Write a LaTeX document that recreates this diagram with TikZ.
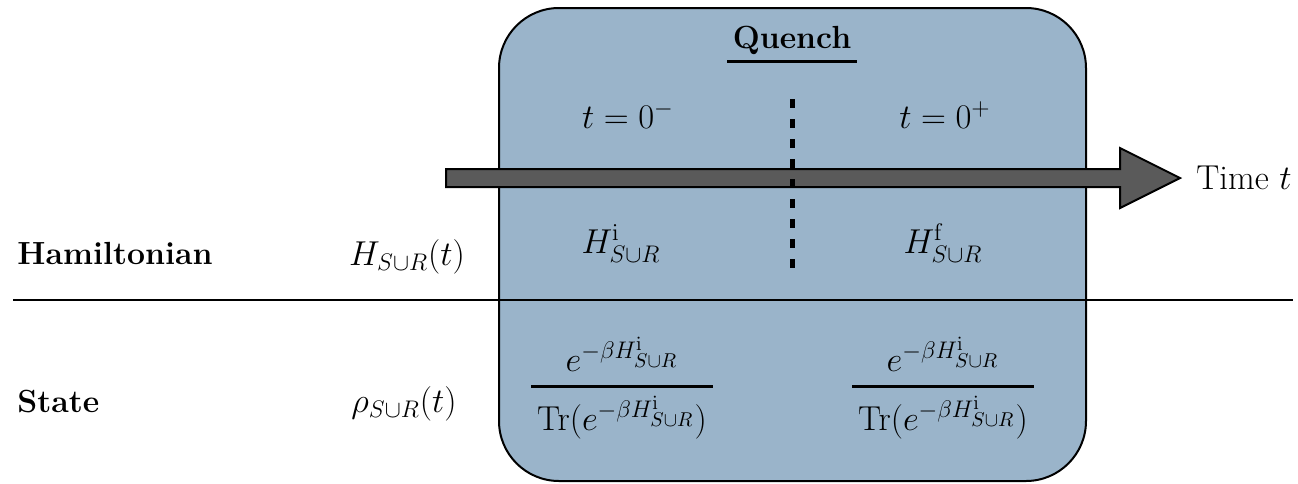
\documentclass[tikz,border=0pt]{standalone}
\usepackage{amsmath}
\usetikzlibrary{positioning}
\definecolor{quenchblue}{RGB}{154,180,202}
\definecolor{arrowgray} {RGB}{90,90,90}
\tikzset{
  rowlbl/.style    ={font=\fontsize{16}{19}\selectfont\bfseries,
                     inner sep=0pt, anchor=base west},
  mathlbl/.style   ={font=\LARGE, inner sep=0pt},
  quenchbox/.style ={draw, line width=1pt, fill=quenchblue,
                     rounded corners=30pt},
  timearrow/.style ={draw, line width=1pt, fill=arrowgray, line join=miter},
  divider/.style   ={line width=1pt},
  quenchline/.style={line width=2.5pt, dash pattern=on 4.5pt off 5.5pt},
}
\newcommand{\stfrac}[1]{\genfrac{}{}{1.4pt}{0}
  {e^{-\beta H^{\mathrm{i}}_{S\cup R}}}
  {\,\mathrm{Tr}(e^{-\beta H^{\mathrm{#1}}_{S\cup R}})\,}}
\newcommand{\thickul}[1]{\vtop{\hbox{\,#1\,}\kern3pt\hrule height 1.3pt}}

\begin{document}
\begin{tikzpicture}[x=0.5pt, y=-0.5pt]
  \useasboundingbox (0,0) rectangle (1298,483);
  % quench window
  \draw[quenchbox] (499,8) rectangle (1086,481);
  \node[font=\fontsize{16}{19}\selectfont\bfseries, anchor=base] (quench)
        at (792,48) {\thickul{Quench}};

  % row separator
  \coordinate (sepl) at (13,300);
  \coordinate (sepr) at (1293,300);
  \draw[divider] (sepl) -- (sepr);

  % time axis
  \draw[timearrow] (446,169) -- (1120,169) -- (1120,148) -- (1180,178)
        -- (1120,208) -- (1120,187) -- (446,187) -- cycle;
  \node[mathlbl, anchor=west] (time) at (1196,178) {Time $t$};

  % instant of the quench
  \coordinate (qtop) at (792,99);
  \coordinate (qbot) at (792,273);
  \draw[quenchline] (qtop) -- (qbot);

  \node[mathlbl, anchor=base] (tminus) at (628,128) {$t=0^-$};
  \node[mathlbl, anchor=base] (tplus)  at (945,128) {$t=0^+$};

  \node[rowlbl] (hamlbl)   at (17,264) {Hamiltonian};
  \node[rowlbl] (statelbl) at (17,412) {State};
  \node[mathlbl, anchor=base] (hsym)   at (407,265) {$H_{S\cup R}(t)$};
  \node[mathlbl, anchor=base] (rhosym) at (404,412) {$\rho_{S\cup R}(t)$};

  \node[mathlbl, anchor=base] (hini) at (621,253) {$H^{\mathrm{i}}_{S\cup R}$};
  \node[mathlbl, anchor=base] (hfin) at (943,253) {$H^{\mathrm{f}}_{S\cup R}$};
  \node[mathlbl] (rhoini) at (622,388) {$\stfrac{i}$};
  \node[mathlbl] (rhofin) at (943,388) {$\stfrac{i}$};
\end{tikzpicture}
\end{document}
